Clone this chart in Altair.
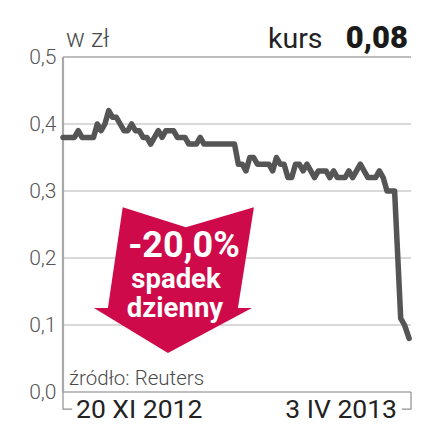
import altair as alt
import pandas as pd

price_a = [.38,.38,.38,.38,.39,.38,.38,.38,.38,.40,.39,.40,.42,.41,.41,.40,.39,.39,.40,.39,.39,.38,.38,.37,.38,.39,.38,.39,.39,.39,.38,.38,.38,.37,.37,.37,.38,.37,.37,.37,.37,.37]
price_b = [.37,.37,.37,.37,.34,.34,.33,.35,.35,.34,.34,.34,.34,.33,.35,.34,.34,.32,.32,.34,.34,.33,.34,.33,.32,.33,.33,.33,.32,.33,.32,.32,.32,.33,.32,.33,.34,.33,.32,.32,.32,.33,.32,.30,.30,.30]
price_c = [.11,.10,.08]
price = price_a + price_b + price_c
day = list(range(len(price_a) + len(price_b))) + [len(price_a) + len(price_b) + k for k in [0.6, 1.6, 2.8]]
grid_values = [0.1, 0.2, 0.3, 0.4]
frame_values = [0.5, 0.0]
arrow_center = [{"d": 29.1, "v": 0.167}]
bracket_left = {"d": [0, 0, 2.4], "v": [0, -0.0255, -0.0255]}
bracket_right = {"d": [91.3, 91.3, 88.9], "v": [0, -0.0255, -0.0255]}
ARROW = "M-0.64,-0.91L0.15,-0.66L1,-0.91L0.8,0.35L0.975,0.35L-0.075,0.91L-1,0.35L-0.825,0.35Z"

FONT = "Roboto"
DOMAIN = [0, 91.3]
x = alt.X("d:Q", scale=alt.Scale(domain=DOMAIN, nice=False, zero=False), axis=None)
y = alt.Y("v:Q", scale=alt.Scale(domain=[0, 0.5], nice=False), axis=alt.Axis(
    values=[0, 0.1, 0.2, 0.3, 0.4, 0.5], labelExpr="replace(format(datum.value,'.1f'),'.',',')",
    title=None, ticks=False, domain=False, grid=False, labelFont=FONT, labelFontSize=21,
    labelFontWeight=300, labelColor="#555555", labelPadding=7, labelBaseline="middle"))

df = pd.DataFrame({"d": day, "v": price})
grid = alt.Chart(pd.DataFrame({"v": grid_values})).mark_rule(color="#cccccc", strokeWidth=1.4).encode(
    y=y, x=alt.value(0), x2=alt.value(348))
top = alt.Chart(pd.DataFrame({"v": frame_values})).mark_rule(color="#a8a8a8", strokeWidth=1.4).encode(
    y=y, x=alt.value(0), x2=alt.value(348))
line = alt.Chart(df).mark_line(color="#555555", strokeWidth=5.5, strokeJoin="round", strokeCap="round", interpolate="linear").encode(x=x, y=y)
arrow = alt.Chart(pd.DataFrame(arrow_center)).mark_point(shape=ARROW, filled=True, fill="#cf0a4a", opacity=1, strokeWidth=0, size=25600).encode(x=x, y=y)

def bracket(pts):
    frame = pd.DataFrame(pts).reset_index()
    return alt.Chart(frame).mark_line(color="#8f8f8f", strokeWidth=1.2).encode(x=x, y=y, order="index:O")

def vrule(px, y1, y2, color="#a0a0a0", w=1.2):
    return alt.Chart(pd.DataFrame({"a": [0]})).mark_rule(color=color, strokeWidth=w).encode(
        x=alt.value(px), y=alt.value(y1), y2=alt.value(y2))

def text(s, px, py, size, color, weight=400, align="left", font=FONT):
    return alt.Chart(pd.DataFrame({"a": [0]})).mark_text(text=s, align=align, baseline="alphabetic", font=font,
        fontSize=size, fontWeight=weight, color=color).encode(x=alt.value(px), y=alt.value(py))

layers = [grid, top, vrule(0, 0, 335, "#a8a8a8", 2.2),
    bracket(bracket_left), bracket(bracket_right),
    arrow, line,
    text("w zł", 3, -10, 25, "#4a4a4a", 300),
    text("kurs", 205, -9, 28.5, "#222222", 400),
    text("0,08", 345, -9, 31, "#1a1a1a", 900, "right"),
    text("źródło: Reuters", 6, 328, 20.5, "#4a4a4a", 300),
    text("20 XI 2012", 13, 361, 26.5, "#222222", 400),
    text("3 IV 2013", 334, 361, 26.5, "#222222", 400, "right"),
    text("-20,0%", 121, 200, 36, "#ffffff", 700, "center"),
    text("spadek", 113, 231, 27.5, "#ffffff", 700, "center"),
    text("dzienny", 112, 260, 27.5, "#ffffff", 700, "center"),
]
chart = alt.layer(*layers).properties(width=348, height=335, autosize=alt.AutoSizeParams(type="none"),
    padding={"left": 55, "top": 49, "right": 24, "bottom": 35}).configure_view(stroke=None)
chart.save("out.html", embed_options={"renderer": "svg", "actions": False})
